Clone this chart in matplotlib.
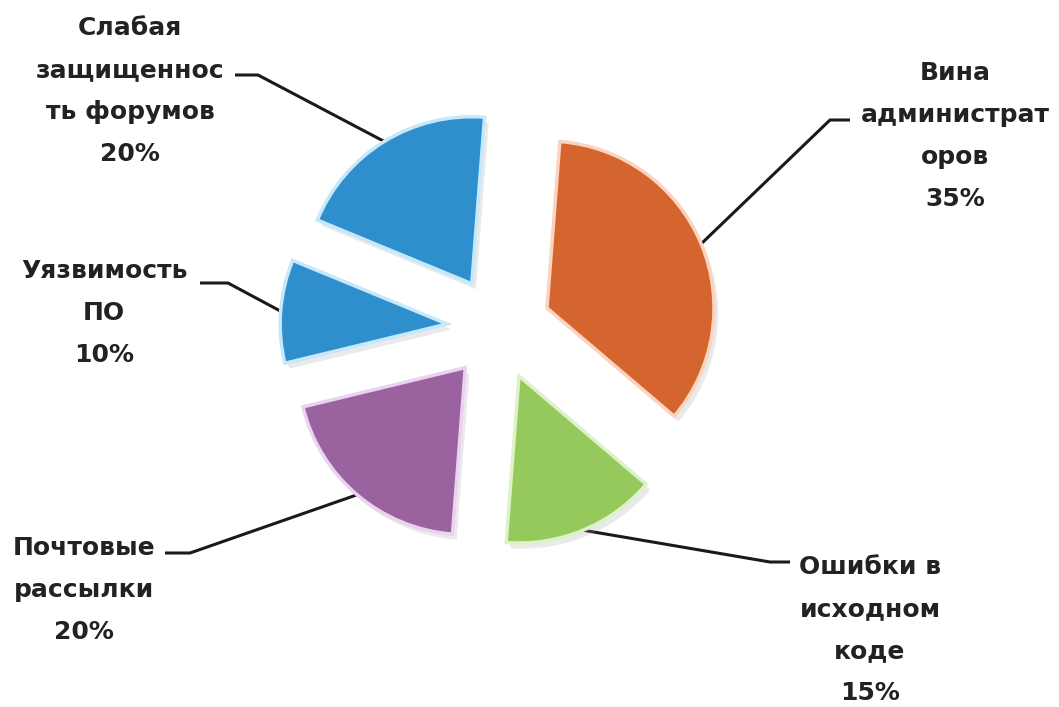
import numpy as np
import matplotlib
matplotlib.use("Agg")
import matplotlib.pyplot as plt
import matplotlib.patheffects as pe

# ---- data ----
labels = ["Вина\nадминистрат\nоров", "Ошибки в\nисходном\nкоде", "Почтовые\nрассылки",
          "Уязвимость\nПО", "Слабая\nзащищеннос\nть форумов"]
values = [35, 15, 20, 10, 20]
pct_labels = ["35%", "15%", "20%", "10%", "20%"]
colors = ["#D4652F", "#95C95C", "#9A63A0", "#2E8FCC", "#2E8FCC"]
edge_colors = ["#FBD3BE", "#DDF2C8", "#EBD2F0", "#C5E8FA", "#C5E8FA"]

# ---- layout (pixel coordinates, y up) ----
W, H = 1059, 707
center = (499, H - 328)
radius = 167
explode_px = 52
# label block centers and leader elbows (screen coords, y down)
label_pos = [(955, 136), (870, 630), (84, 590), (104, 313), (130, 91)]
line_start = [(850, 120), (790, 562), (165, 553), (200, 283), (235, 75)]
line_elbow = [(830, 120), (770, 562), (190, 553), (228, 283), (258, 75)]

fig = plt.figure(figsize=(W / 100, H / 100), dpi=100)
ax = fig.add_axes([0, 0, 1, 1])
wedges, _ = ax.pie(values, colors=colors, startangle=85.6, counterclock=False,
                   radius=radius, center=center, explode=[explode_px] * len(values),
                   frame=True)
for w, ec in zip(wedges, edge_colors):
    w.set_edgecolor(ec)
    w.set_linewidth(2.5)
    w.set_path_effects([pe.SimplePatchShadow(offset=(3, -4), shadow_rgbFace="#999999", alpha=0.2),
                        pe.Normal()])

ax.set_xlim(0, W)
ax.set_ylim(0, H)
ax.set_aspect("equal")
ax.axis("off")

for i, w in enumerate(wedges):
    thm = np.deg2rad(0.5 * (w.theta1 + w.theta2))
    cx, cy = w.center
    ax_pt = (cx + w.r * np.cos(thm), cy + w.r * np.sin(thm))
    xs = [line_start[i][0], line_elbow[i][0], ax_pt[0]]
    ys = [H - line_start[i][1], H - line_elbow[i][1], ax_pt[1]]
    ax.plot(xs, ys, color="#1a1a1a", lw=2.2, solid_capstyle="butt", zorder=0)
    lx, ly = label_pos[i]
    ax.text(lx, H - ly, labels[i] + "\n" + pct_labels[i], ha="center", va="center",
            multialignment="center", fontsize=18, family="DejaVu Sans", weight="bold",
            color="#222222", linespacing=1.95)

fig.savefig("out.png", dpi=100, facecolor="white")
